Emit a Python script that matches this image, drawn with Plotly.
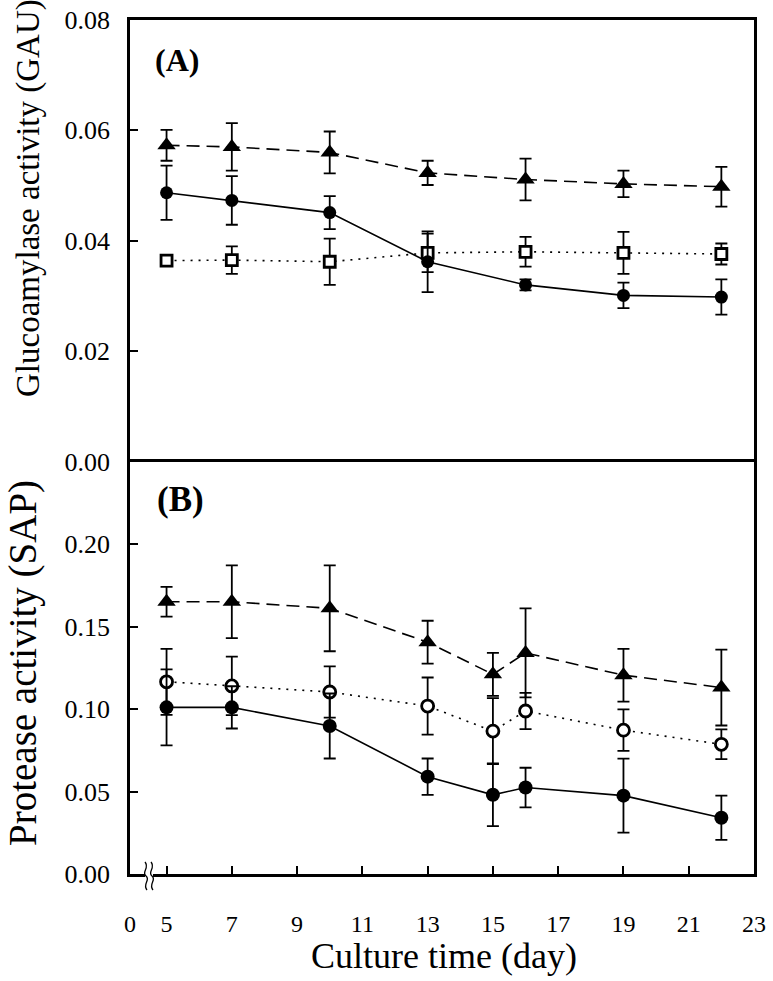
import plotly.graph_objects as go

# ---------------- data ----------------
days_A = [5, 7, 10, 13, 16, 19, 22]
tri_A = [0.0573, 0.0570, 0.0560, 0.0523, 0.0511, 0.0503, 0.0498]
tri_A_err = [0.0028, 0.0043, 0.0038, 0.0022, 0.0038, 0.0024, 0.0036]
fill_A = [0.0487, 0.0473, 0.0451, 0.0362, 0.0320, 0.0301, 0.0298]
fill_A_err = [0.0049, 0.0044, 0.0030, 0.0055, 0.0010, 0.0023, 0.0032]
open_A = [0.0364, 0.0365, 0.0362, 0.0378, 0.0380, 0.0378, 0.0376]
open_A_err = [0.0010, 0.0025, 0.0042, 0.0035, 0.0027, 0.0038, 0.0019]

days_B = [5, 7, 10, 13, 15, 16, 19, 22]
tri_B = [0.1650, 0.1650, 0.1610, 0.1405, 0.1210, 0.1340, 0.1205, 0.1130]
tri_B_err = [0.0090, 0.0220, 0.0260, 0.0130, 0.0130, 0.0270, 0.0160, 0.0230]
open_B = [0.1165, 0.1140, 0.1103, 0.1018, 0.0866, 0.0988, 0.0872, 0.0786]
open_B_err = [0.0200, 0.0177, 0.0155, 0.0173, 0.0200, 0.0110, 0.0126, 0.0090]
fill_B = [0.1010, 0.1010, 0.0897, 0.0590, 0.0480, 0.0524, 0.0475, 0.0341]
fill_B_err = [0.0230, 0.0128, 0.0197, 0.0110, 0.0190, 0.0120, 0.0224, 0.0134]

x_break = 3.88  # left edge of the broken axis (labelled "0")
x_tick_vals = [x_break, 5, 7, 9, 11, 13, 15, 17, 19, 21, 23]
x_tick_text = ["0", "5", "7", "9", "11", "13", "15", "17", "19", "21", "23"]
yA_ticks = [0.00, 0.02, 0.04, 0.06, 0.08]
yB_ticks = [0.00, 0.05, 0.10, 0.15, 0.20]

FONT = "Liberation Serif"
BLACK = "#000000"

fig = go.Figure()


def err(vals):
    return dict(type="data", array=vals, visible=True, color=BLACK,
                thickness=1.8, width=6)


def add(x, y, e, symbol, dash, fill, size, xa, ya, lw_m=0):
    fig.add_trace(go.Scatter(
        x=x, y=y, mode="lines+markers", error_y=err(e),
        line=dict(color=BLACK, width=1.6, dash=dash),
        marker=dict(symbol=symbol, size=size, color=fill,
                    line=dict(color=BLACK, width=lw_m)),
        xaxis=xa, yaxis=ya, showlegend=False, cliponaxis=False))


# panel A
add(days_A, open_A, open_A_err, "square", "2px,6px", "white", 11, "x", "y", 2.8)
add(days_A, fill_A, fill_A_err, "circle", "solid", BLACK, 13, "x", "y")
add(days_A, tri_A, tri_A_err, "triangle-up", "13px,7px", BLACK, 16, "x", "y")
# panel B
add(days_B, open_B, open_B_err, "circle", "2px,6px", "white", 12, "x2", "y2", 2.8)
add(days_B, fill_B, fill_B_err, "circle", "solid", BLACK, 14, "x2", "y2")
add(days_B, tri_B, tri_B_err, "triangle-up", "13px,7px", BLACK, 16, "x2", "y2")

axis_common = dict(showline=True, linecolor=BLACK, linewidth=2.5,
                   showgrid=False, zeroline=False, automargin=False)

fig.update_layout(
    width=773, height=981,
    margin=dict(l=130, r=19, t=20, b=107),
    paper_bgcolor="white", plot_bgcolor="white",
    font=dict(family=FONT, color=BLACK),
    xaxis=dict(**axis_common, side="top", mirror=False, range=[x_break, 23],
               anchor="y", showticklabels=False, ticks="", matches="x2"),
    yaxis=dict(**axis_common, mirror=True, domain=[0.483, 1], range=[0, 0.08],
               tickvals=yA_ticks, tickformat=".2f", ticks="inside",
               ticklen=8, tickwidth=2, tickcolor=BLACK,
               tickfont=dict(size=26, family=FONT), ticklabelstandoff=12),
    xaxis2=dict(**axis_common, mirror=True, range=[x_break, 23], anchor="y2",
                tickvals=x_tick_vals, ticktext=x_tick_text, ticks="inside",
                ticklen=8, tickwidth=2, tickcolor=BLACK,
                tickfont=dict(size=24, family=FONT), ticklabelstandoff=26),
    yaxis2=dict(**axis_common, mirror=True, domain=[0, 0.483], range=[0, 0.25],
                tickvals=yB_ticks, tickformat=".2f", ticks="inside",
                ticklen=8, tickwidth=2, tickcolor=BLACK,
                tickfont=dict(size=26, family=FONT), ticklabelstandoff=12),
)


def px(p):
    return (p - 130) / 624.0


def py(p):
    return (874 - p) / 854.0


annotations = [
    dict(text="Glucoamylase activity (GAU)", x=px(28), y=py(198), textangle=-90,
         font=dict(size=33, family=FONT)),
    dict(text="Protease activity (SAP)", x=px(23), y=py(663), textangle=-90,
         font=dict(size=39, family=FONT)),
    dict(text="Culture time (day)", x=px(444), y=py(956),
         font=dict(size=36, family=FONT)),
    dict(text="<b>(A)</b>", x=px(177), y=py(60), font=dict(size=32, family=FONT)),
    dict(text="<b>(B)</b>", x=px(180), y=py(500), font=dict(size=35, family=FONT)),
]
for a in annotations:
    a.update(xref="paper", yref="paper", xanchor="center", yanchor="middle",
             showarrow=False)
fig.update_layout(annotations=annotations)

# axis break mark
shapes = [dict(type="rect", xref="paper", yref="paper", x0=px(145), x1=px(153),
               y0=py(877), y1=py(871), fillcolor="white", line=dict(width=0),
               layer="above")]
for cx in (146, 152):
    path = (f"M {px(cx-1)},{py(862)} C {px(cx+4)},{py(868)} {px(cx-5)},{py(872)} "
            f"{px(cx)},{py(876)} C {px(cx+5)},{py(880)} {px(cx-4)},{py(884)} "
            f"{px(cx+1)},{py(890)}")
    shapes.append(dict(type="path", xref="paper", yref="paper", path=path,
                       line=dict(color=BLACK, width=1.3), layer="above"))
fig.update_layout(shapes=shapes)

fig.write_html("out.html",
               config={"displayModeBar": False},
               post_script="document.body.style.margin='0';"
                           "document.body.style.padding='0';")
